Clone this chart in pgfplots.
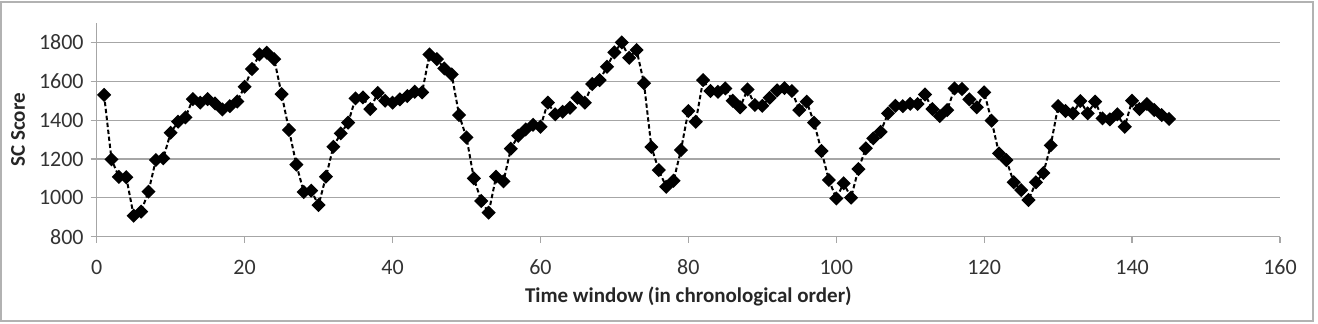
\documentclass[border=0pt]{standalone}
\usepackage{pgfplots}
\pgfplotsset{compat=1.18}
\usepackage{pgfplotstable}
\usepackage{fontspec}
\setmainfont{Carlito}
\pgfplotstableread{
x y
1 1530
2 1198
3 1108
4 1106
5 908
6 929
7 1032
8 1195
9 1203
10 1335
11 1392
12 1414
13 1508
14 1490
15 1508
16 1486
17 1455
18 1472
19 1496
20 1572
21 1663
22 1738
23 1747
24 1714
25 1534
26 1349
27 1171
28 1030
29 1037
30 963
31 1109
32 1263
33 1332
34 1387
35 1512
36 1517
37 1457
38 1540
39 1500
40 1490
41 1507
42 1524
43 1546
44 1543
45 1738
46 1714
47 1666
48 1635
49 1426
50 1311
51 1100
52 984
53 924
54 1109
55 1085
56 1253
57 1320
58 1352
59 1376
60 1366
61 1490
62 1430
63 1443
64 1464
65 1515
66 1490
67 1586
68 1606
69 1675
70 1749
71 1800
72 1721
73 1761
74 1590
75 1262
76 1143
77 1057
78 1088
79 1246
80 1447
81 1392
82 1606
83 1550
84 1546
85 1563
86 1500
87 1466
88 1558
89 1478
90 1474
91 1515
92 1553
93 1565
94 1550
95 1452
96 1495
97 1387
98 1241
99 1092
100 997
101 1075
102 1001
103 1148
104 1255
105 1306
106 1340
107 1435
108 1474
109 1472
110 1484
111 1483
112 1532
113 1457
114 1421
115 1452
116 1563
117 1560
118 1507
119 1466
120 1543
121 1397
122 1229
123 1194
124 1080
125 1040
126 989
127 1080
128 1128
129 1270
130 1472
131 1447
132 1435
133 1498
134 1435
135 1495
136 1409
137 1404
138 1430
139 1366
140 1500
141 1457
142 1483
143 1452
144 1426
145 1406
}\sctable
\begin{document}
\begin{tikzpicture}
\useasboundingbox (0,0) rectangle (659pt,161.5pt);
\draw[black!30, line width=0.8pt] (0.5pt,1pt) rectangle (656.5pt,160.5pt);
\begin{axis}[
  at={(48.35pt,43.15pt)}, anchor=south west,
  scale only axis, width=591.65pt, height=106.85pt,
  xmin=0, xmax=160, ymin=800, ymax=1900,
  xtick={0,20,...,160}, ytick={800,1000,...,1800},
  axis lines*=left,
  axis line style={black!35, line width=0.6pt},
  ymajorgrids, grid style={black!35, line width=0.6pt},
  tick align=outside, major tick length=3pt,
  tick style={black!35, line width=0.6pt},
  /pgf/number format/assume math mode=true,
  /pgf/number format/1000 sep={},
  ticklabel style={font=\fontsize{11}{13}\selectfont, text=black!80},
  xticklabel style={yshift=-5pt},
  xlabel={Time window (in chronological order)},
  ylabel={SC Score},
  label style={font=\bfseries\fontsize{10.5}{12}\selectfont, text=black!85},
  xlabel style={at={(axis description cs:0.5,-0.2775)}, anchor=center},
  ylabel style={at={(axis description cs:-0.0665,0.5)}, anchor=center},
  clip=false,
]
\addplot[black, line width=1pt, dash pattern=on 2.2pt off 1.3pt,
  mark=square*, mark size=2pt,
  mark options={solid, rotate=45, fill=black}] table[x=x,y=y] {\sctable};
\end{axis}
\end{tikzpicture}
\end{document}
